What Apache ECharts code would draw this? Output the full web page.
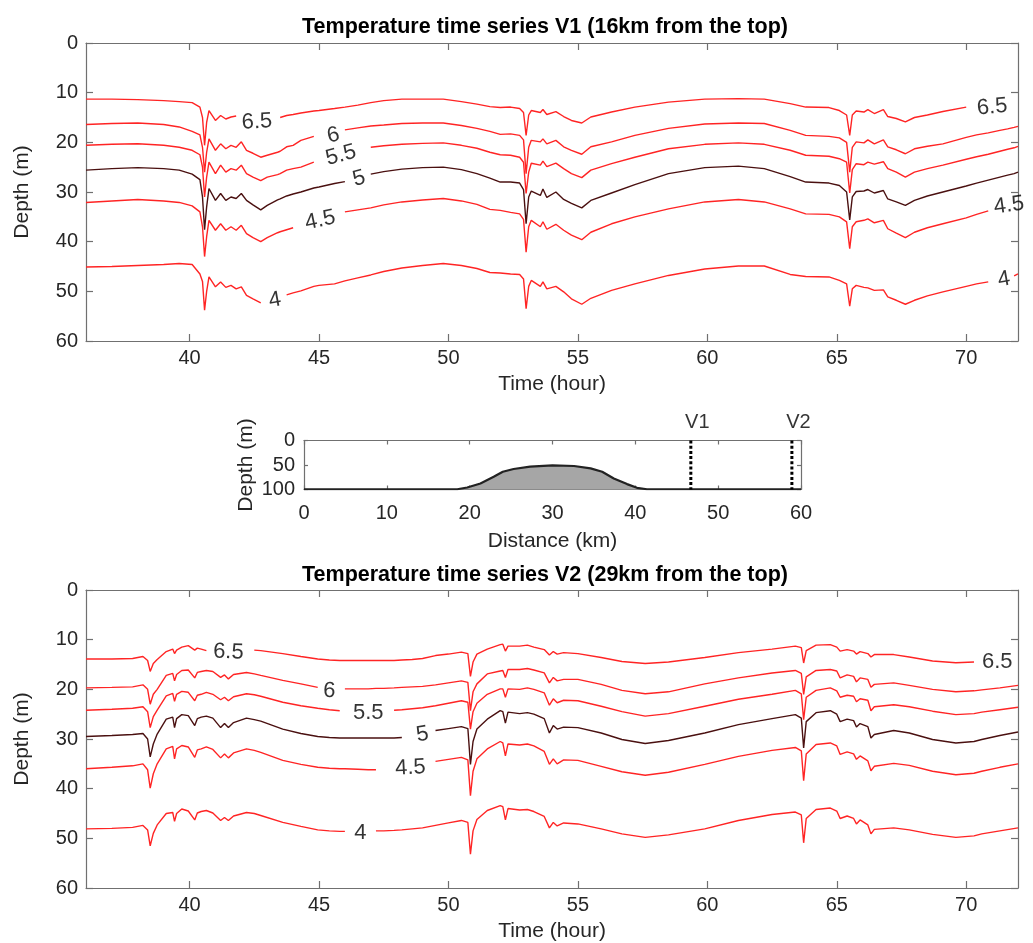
<!DOCTYPE html>
<html>
<head>
<meta charset="utf-8">
<script src="https://cdn.jsdelivr.net/npm/echarts@6/dist/echarts.min.js"></script>
<style>
html,body{margin:0;padding:0;background:#fff;}
#c{width:1033px;height:943px;}
</style>
</head>
<body>
<div id="c"></div>
<script>
// ---------- V1 panel (time grid + isotherm depths) ----------
const T1 = [36,37,38,39,39.6, 40.1,40.4,40.5,40.58,40.66, 40.75,41.0,41.2,41.4,41.6, 41.8,42.0,42.2,42.45,42.75,
  43.0,43.4,43.5,43.75,44.0, 44.3,44.8,45.0,45.6,46.0, 46.5,47.0,47.5,48.2,49.0, 49.8,50.5,51.1,51.6,52.0,
  52.4,52.75,52.9,53.0,53.1, 53.2,53.55,53.65,53.8,54.15, 54.45,54.75,55.15,55.5,56.3, 57.2,58.5,59.9,61.2,62.2,
  63.2,63.8,64.7,65.1,65.38, 65.5,65.6,65.75,66.05,66.2, 66.45,66.8,66.97,67.3,67.65, 68.0,68.5,69.1,70.0,70.4,
  70.85,71.3,71.6,71.85,72];
const v1_65 = [11.3,11.3,11.4,11.6,11.8, 12.0,12.9,15.0,20.6,16.0, 13.6,15.6,14.6,15.3,14.9, 14.7,null,null,null,null,
  null,null,15.0,14.6,14.4, 14.1,13.7,13.6,13.2,12.9, 12.5,12.0,11.6,11.3,11.3, 11.3,11.8,12.3,12.8,13.0,
  12.9,13.2,14.0,18.6,14.5, 13.6,14.0,13.4,14.4,13.8, 14.8,15.6,16.1,14.9,13.9, 12.9,11.9,11.3,11.2,11.3,
  12.2,12.9,13.0,13.6,14.5, 18.6,14.5,13.7,13.9,13.4, 14.2,13.4,14.8,15.2,15.9, 15.0,14.5,13.8,12.9,null,
  null,null,null,null,null];
const v1_60 = [16.4,16.2,16.1,16.4,16.9, 17.8,18.5,21.0,26.0,22.0, 19.3,21.6,20.3,21.3,20.6, 21.0,19.9,21.6,22.2,23.0,
  22.6,22.0,21.8,20.9,20.6, 19.6,18.8,null,null,17.5, 17.1,16.7,16.5,16.2,16.1, 16.1,16.6,17.2,17.8,18.4,
  18.3,18.6,19.5,26.3,21.0, 19.6,19.9,19.3,20.3,19.6, 20.9,21.6,22.4,20.9,19.9, 18.6,17.2,16.3,16.1,16.2,
  17.6,18.6,18.8,19.1,20.0, 26.0,21.0,19.9,20.1,19.5, 20.3,19.5,20.9,21.5,22.3, 21.3,20.8,20.3,19.0,18.5,
  18.1,17.6,17.3,17.0,16.8];
const v1_55 = [20.6,20.4,20.3,20.6,21.0, 21.6,22.5,25.0,31.0,27.0, 24.0,26.3,24.6,26.0,25.3, 25.6,24.6,26.3,27.0,27.7,
  27.0,26.5,26.3,25.6,25.3, 25.0,24.0,null,null,null, null,21.0,20.7,20.4,20.2, 20.1,20.6,21.2,22.0,22.5,
  22.6,23.0,24.0,30.3,26.0, 24.2,24.6,23.8,24.9,24.2, 25.3,26.3,27.1,25.6,24.3, 23.0,21.3,20.4,20.1,20.4,
  21.6,22.6,22.8,23.3,24.0, 30.2,25.5,24.3,24.5,24.0, 24.4,23.9,25.3,26.0,27.0, 26.0,25.3,24.6,23.4,22.9,
  22.4,21.8,21.4,21.1,20.8];
const v1_50 = [25.6,25.3,25.1,25.3,25.6, 26.4,27.5,31.0,37.6,33.0, 29.3,31.7,30.3,31.7,31.0, 31.3,30.3,31.7,32.6,33.6,
  32.7,31.6,31.4,30.8,30.4, 30.0,29.2,29.0,28.3,27.9, null,26.4,25.9,25.4,25.1, 25.0,25.5,26.3,27.2,28.0,
  28.0,28.2,29.5,36.4,31.0, 29.8,30.7,29.4,31.1,30.0, 31.5,32.3,33.2,31.7,30.2, 28.5,26.3,25.1,24.8,25.3,
  26.9,28.0,28.2,28.7,30.0, 35.6,31.0,29.9,29.8,29.5, 30.2,29.7,31.4,32.0,32.7, 31.7,30.8,30.0,28.8,28.2,
  27.6,27.0,26.6,26.3,26.0];
const v1_45 = [32.1,31.8,31.5,31.8,32.1, 32.8,34.0,37.0,43.0,39.0, 35.7,37.7,36.4,37.7,37.0, 37.7,36.7,38.4,39.2,40.0,
  39.2,38.2,38.0,37.6,37.2, null,null,null,null,34.0, 33.6,33.2,32.6,32.0,31.6, 31.3,31.8,32.5,33.5,33.7,
  34.1,34.4,35.5,42.1,37.0, 35.7,37.0,36.0,37.5,36.5, 37.7,38.7,39.6,38.1,36.4, 35.0,33.4,32.0,31.5,32.0,
  33.4,34.4,34.5,35.0,36.0, 41.4,37.0,36.0,35.7,35.4, 36.2,35.7,37.4,38.3,39.2, 38.1,37.2,36.4,35.2,34.5,
  33.8,null,null,null,null];
const v1_40 = [45.1,45.0,44.8,44.6,44.4, 44.6,46.5,48.0,53.8,50.0, 47.1,49.1,48.1,49.2,48.8, 49.5,49.1,50.8,51.5,52.3,
  null,null,null,50.7,50.3, 49.9,49.0,48.8,48.5,47.9, 47.3,46.7,46.0,45.3,44.8, 44.4,44.8,45.4,46.2,46.3,
  46.5,46.6,47.5,53.5,49.0, 47.8,49.0,48.1,49.5,49.0, 50.1,51.5,52.6,51.4,49.8, 48.5,46.8,45.5,44.9,44.9,
  46.6,47.0,47.1,47.8,48.5, 53.0,49.5,48.8,49.2,49.3, 49.8,49.7,51.1,51.8,52.6, 51.8,50.9,50.1,49.0,48.5,
  48.1,null,null,46.9,46.5];
const labelT1 = [42.6, 45.55, 45.85, 46.55, 45.05, 43.3, 71.0, 71.65, 71.46];
const labelD1 = [15.9, 18.6, 22.6, 27.3, 35.7, 51.8, 12.9, 32.7, 47.6];
const labelTxt1 = ['6.5','6','5.5','5','4.5','4','6.5','4.5','4'];
const labelRot1 = [3, 13, 15, 15, 12, 10, 5, 8, 10];

// ---------- V2 panel ----------
const T2 = [36,37,37.8,38.2,38.38, 38.48,38.6,38.75,39.1,39.35, 39.42,39.5,39.7,39.95,40.2, 40.3,40.45,40.65,40.9,41.2,
  41.35,41.5,41.7,42.2,42.5, 42.75,43.6,44.3,44.95,45.4, 45.8,46.0,46.5,46.9,47.2, 47.5,47.9,48.2,48.6,49.0,
  49.5,50.0,50.5,50.75,50.85, 50.95,51.1,51.5,52.0,52.1, 52.2,52.3,52.75,53.05,53.3, 53.7,53.9,54.05,54.2,54.45,
  55.0,55.9,56.7,57.6,58.5, 59.9,61.2,62.5,63.4,63.63, 63.72,63.82,64.2,64.75,65.0, 65.13,65.4,65.65,65.76,65.9,
  66.2,66.32,66.45,67.2,67.8, 68.7,69.6,70.3,70.6,71.3, 72];
const v2_65 = [13.9,13.9,13.8,13.4,14.2, 16.4,14.8,14.0,12.4,11.9, 12.8,12.1,11.5,11.2,12.1, 11.7,11.9,12.2,null,null,
  null,null,null,null,12.1, 12.2,12.8,13.4,13.9,14.1, 14.2,14.2,14.2,14.2,14.2, 14.2,14.2,14.1,14.0,13.8,
  13.2,12.9,12.5,12.8,17.4, 14.5,12.9,11.9,11.0,10.9, 12.3,11.3,11.3,11.1,11.5, 12.0,13.1,12.4,12.9,12.6,
  12.8,13.6,14.4,14.8,14.5, 13.6,12.6,11.9,11.3,11.6, 14.7,12.2,11.1,11.0,11.5, 12.3,12.0,12.3,12.9,12.4,
  12.8,13.5,13.0,13.0,13.5, 14.3,14.65,14.5,null,null, null];
const v2_60 = [19.7,19.6,19.5,19.1,20.0, 23.0,21.0,20.0,17.2,16.8, 18.3,17.0,16.2,16.1,17.7, 16.6,16.4,16.2,16.4,17.6,
  17.1,17.9,17.0,16.6,16.9, 17.2,18.2,18.9,19.6,null, null,19.9,19.9,19.9,19.8, 19.8,19.7,19.6,19.5,19.4,
  19.1,18.7,18.3,18.6,24.3, 20.5,18.9,16.9,16.3,16.2, 17.6,16.0,16.0,15.8,16.1, 16.7,18.7,17.6,18.3,18.0,
  18.0,19.0,20.2,20.9,20.5, 18.9,17.7,16.7,16.2,16.8, 21.0,17.5,16.2,16.0,16.3, 17.7,17.1,17.4,18.5,17.7,
  18.0,19.6,19.0,18.7,19.2, 20.0,20.5,20.3,20.1,19.7, 19.2];
const v2_55 = [24.2,24.0,23.8,23.5,24.5, 27.7,25.5,24.2,21.3,20.8, 22.4,21.0,20.4,20.6,22.3, 21.2,21.0,20.6,21.0,22.1,
  21.6,22.3,21.5,20.9,21.1, 21.4,22.6,23.3,23.8,24.1, 24.3,null,null,null,null, null,24.2,24.1,23.9,23.7,
  23.3,22.8,22.3,22.6,28.0, 24.5,22.8,21.0,19.9,19.9, 21.6,19.9,20.0,19.7,20.0, 20.7,23.2,21.9,22.7,22.2,
  22.3,23.4,24.5,25.4,24.9, 23.4,22.0,21.0,20.2,20.9, 26.1,21.6,20.2,19.7,20.3, 21.6,21.2,21.4,22.5,21.9,
  22.2,24.3,23.5,23.1,23.5, 24.4,25.1,24.9,24.6,24.1, 23.6];
const v2_50 = [29.5,29.3,29.1,28.9,30.0, 33.6,31.0,29.0,26.0,25.6, 27.7,25.9,25.1,25.3,27.3, 25.9,25.6,25.4,25.8,27.7,
  26.9,27.7,26.7,25.8,26.1, 26.4,28.0,28.9,29.5,29.7, 29.8,29.8,29.8,29.8,29.8, 29.8,29.8,29.7,null,null,
  28.3,27.9,27.5,27.9,35.1, 30.5,28.0,26.0,24.3,24.5, 26.8,24.6,24.9,24.7,25.0, 25.9,28.8,27.3,28.0,27.6,
  27.7,28.8,30.1,30.9,30.3, 28.8,27.1,25.9,25.1,25.8, 31.8,26.5,24.7,24.3,25.0, 26.5,26.0,26.3,27.6,26.9,
  27.5,29.8,29.1,28.3,28.8, 30.1,30.8,30.5,30.1,29.3, 28.6];
const v2_45 = [36.0,35.7,35.4,35.0,36.2, 39.9,37.0,35.0,32.0,31.5, 34.0,32.0,31.3,31.6,33.7, 32.2,32.0,31.6,32.1,33.8,
  33.0,33.8,32.8,32.0,32.3, 32.7,34.3,35.1,35.7,35.9, 36.0,36.0,36.1,36.2,36.2, null,null,null,null,null,
  34.5,34.1,33.7,34.2,41.4, 36.5,34.0,32.0,30.5,30.8, 33.4,31.0,31.2,31.0,31.4, 32.5,35.1,34.0,35.0,34.2,
  34.3,35.5,36.6,37.3,36.7, 35.1,33.5,32.3,31.7,32.4, 38.4,33.0,31.1,30.8,31.4, 33.1,32.6,33.0,34.1,33.4,
  34.4,36.4,35.5,34.9,35.3, 36.5,37.2,36.9,36.5,35.7, 35.0];
const v2_40 = [48.1,48.0,47.8,47.4,48.3, 51.5,49.0,47.3,45.0,44.8, 46.6,45.0,44.1,44.5,46.3, 44.9,44.6,44.4,44.9,46.4,
  45.8,46.4,45.5,44.8,45.0, 45.4,46.8,47.6,48.3,48.5, 48.6,48.6,null,null,48.5, 48.5,48.4,48.3,48.1,47.9,
  47.4,46.9,46.4,46.8,53.2, 48.5,46.2,44.4,43.4,43.6, 46.3,44.0,44.3,44.2,44.6, 45.6,47.9,46.8,47.5,46.9,
  47.1,48.1,49.1,49.8,49.3, 48.1,46.4,45.2,44.7,45.3, 50.9,46.0,44.2,43.9,44.5, 46.0,45.5,46.0,47.1,46.3,
  47.3,49.1,48.2,47.9,48.3, 49.2,49.8,49.5,49.1,48.5, 47.9];
const labelT2 = [41.5, 45.4, 46.9, 49.0, 48.53, 46.6, 71.2];
const labelD2 = [12.5, 20.3, 24.7, 29.1, 35.8, 49.0, 14.45];
const labelTxt2 = ['6.5','6','5.5','5','4.5','4','6.5'];
const labelRot2 = [-2, -2, 0, 10, 3, 0, 0];

// ---------- Cross-section panel ----------
const distKm = [0, 18.5, 19.7, 21.3, 22.9, 24.0, 25.3, 27.3, 30.0, 32.6, 34.6, 36.0, 37.4, 39.0, 40.2, 41.4, 60];
const bedDepth = [99.5, 99.5, 95.9, 87.7, 74.0, 63.7, 58.2, 53.4, 50.7, 52.0, 56.8, 63.7, 77.4, 89.0, 96.6, 99.5, 99.5];
const stationKm = [46.7, 58.9];
const stationName = ['V1', 'V2'];

// ---------- ticks ----------
const timeTicks = [40, 45, 50, 55, 60, 65, 70];

const FONT = "'Liberation Sans', Arial, Helvetica, sans-serif";
const AX = '#707070', TXT = '#262626';
const RED = '#ff2424', DARK = '#4a1010';

function pts(T, D){ return T.map((t,i)=>[t, D[i]===null ? '-' : D[i]]); }
function lineSeries(T, D, color, xi, yi){
  return {type:'line', xAxisIndex:xi, yAxisIndex:yi, data:pts(T,D), showSymbol:false, symbol:'none',
    lineStyle:{color:color, width:1.4}, itemStyle:{color:color}, connectNulls:false, silent:true, z:3};
}
function labelSeries(T, D, txt, rot, xi, yi){
  return {type:'scatter', xAxisIndex:xi, yAxisIndex:yi, symbolSize:0, silent:true, z:5, clip:false,
    label:{show:true, position:'inside', fontSize:22, fontFamily:FONT, color:'#000'},
    data:T.map((t,i)=>({value:[t, D[i]], label:{show:true, position:'inside', formatter:txt[i], rotate:rot[i],
      fontSize:22, fontFamily:FONT, color:'#000'}}))};
}
function xMain(gi, min, max, name, extra){
  return Object.assign({type:'value', gridIndex:gi, min:min, max:max, position:'bottom',
    name:name, nameLocation:'middle', nameGap:33,
    nameTextStyle:{fontSize:21, fontFamily:FONT, color:TXT},
    axisLine:{show:true, onZero:false, lineStyle:{color:AX, width:1.2}},
    axisTick:{show:true, inside:true, length:7, lineStyle:{color:AX, width:1.2}},
    axisLabel:{fontSize:20, fontFamily:FONT, color:TXT, margin:7},
    splitLine:{show:false}}, extra||{});
}
function xTop(gi, min, max, len, extra){
  return Object.assign({type:'value', gridIndex:gi, min:min, max:max, position:'top',
    axisLine:{show:true, onZero:false, lineStyle:{color:AX, width:1.2}},
    axisTick:{show:true, inside:true, length:len, lineStyle:{color:AX, width:1.2}},
    axisLabel:{show:false}, splitLine:{show:false}}, extra||{});
}
function yMain(gi, max, interval, gap, margin){
  return {type:'value', gridIndex:gi, min:0, max:max, interval:interval, inverse:true, position:'left',
    name:'Depth (m)', nameLocation:'middle', nameGap:gap,
    nameTextStyle:{fontSize:21, fontFamily:FONT, color:TXT},
    axisLine:{show:true, onZero:false, lineStyle:{color:AX, width:1.2}},
    axisTick:{show:true, inside:true, length: gi===1?4:7, lineStyle:{color:AX, width:1.2}},
    axisLabel:{fontSize:20, fontFamily:FONT, color:TXT, margin:margin},
    splitLine:{show:false}};
}
function yRight(gi, max, interval, len){
  return {type:'value', gridIndex:gi, min:0, max:max, interval:interval, inverse:true, position:'right',
    axisLine:{show:true, onZero:false, lineStyle:{color:AX, width:1.2}},
    axisTick:{show:true, inside:true, length:len, lineStyle:{color:AX, width:1.2}},
    axisLabel:{show:false}, splitLine:{show:false}};
}

const series = [];
// V1
series.push(lineSeries(T1, v1_50, DARK, 0, 0));
[v1_65, v1_60, v1_55, v1_45, v1_40].forEach(d=>series.push(lineSeries(T1, d, RED, 0, 0)));
series.push(labelSeries(labelT1, labelD1, labelTxt1, labelRot1, 0, 0));
// cross-section
series.push({type:'line', xAxisIndex:2, yAxisIndex:2, data:distKm.map((x,i)=>[x, bedDepth[i]]),
  showSymbol:false, symbol:'none', silent:true, z:3,
  lineStyle:{color:'#222', width:2.2}, areaStyle:{color:'#a6a6a6', opacity:1, origin:'end'}});
stationKm.forEach((x,i)=>{
  series.push({type:'line', xAxisIndex:2, yAxisIndex:2, data:[[x,0],[x,100]], showSymbol:false, symbol:'none',
    silent:true, z:4, lineStyle:{color:'#000', width:3, type:[3,2.2]}});
});
series.push({type:'scatter', xAxisIndex:2, yAxisIndex:2, symbolSize:0, silent:true, clip:false, z:5,
  data:stationKm.map((x,i)=>({value:[x,0], label:{show:true, position:'top', distance:8, offset:[6.5,0],
    formatter:stationName[i], fontSize:20, fontFamily:FONT, color:'#000'}}))});
// V2
series.push(lineSeries(T2, v2_50, DARK, 4, 4));
[v2_65, v2_60, v2_55, v2_45, v2_40].forEach(d=>series.push(lineSeries(T2, d, RED, 4, 4)));
series.push(labelSeries(labelT2, labelD2, labelTxt2, labelRot2, 4, 4));

const chart = echarts.init(document.getElementById('c'), null, {renderer:'canvas'});
chart.setOption({
  animation:false,
  backgroundColor:'#fff',
  grid:[
    {left:86, top:43, width:932, height:298},
    {left:304, top:440.5, width:497, height:49},
    {left:86, top:590, width:932, height:298}
  ],
  xAxis:[
    xMain(0, 36, 72, 'Time (hour)', {axisLabel:{fontSize:20, fontFamily:FONT, color:TXT, margin:7, customValues:timeTicks},
      axisTick:{show:true, inside:true, length:7, customValues:timeTicks, lineStyle:{color:AX, width:1.2}}}),
    xTop(0, 36, 72, 7, {axisTick:{show:true, inside:true, length:7, customValues:timeTicks, lineStyle:{color:AX, width:1.2}}}),
    xMain(1, 0, 60, 'Distance (km)', {interval:10, nameGap:41,
      axisLabel:{fontSize:20, fontFamily:FONT, color:TXT, margin:14},
      axisTick:{show:true, inside:true, length:4, lineStyle:{color:AX, width:1.2}}}),
    xTop(1, 0, 60, 4, {interval:10}),
    xMain(2, 36, 72, 'Time (hour)', {axisLabel:{fontSize:20, fontFamily:FONT, color:TXT, margin:7, customValues:timeTicks},
      axisTick:{show:true, inside:true, length:7, customValues:timeTicks, lineStyle:{color:AX, width:1.2}}}),
    xTop(2, 36, 72, 7, {axisTick:{show:true, inside:true, length:7, customValues:timeTicks, lineStyle:{color:AX, width:1.2}}})
  ],
  yAxis:[
    yMain(0, 60, 10, 53, 8),
    yRight(0, 60, 10, 7),
    yMain(1, 100, 50, 47, 9),
    yRight(1, 100, 50, 4),
    yMain(2, 60, 10, 53, 8),
    yRight(2, 60, 10, 7)
  ],
  graphic:[
    {type:'text', x:545, y:27, silent:true, style:{text:'Temperature time series V1 (16km from the top)',
      font:'bold 21.5px '+FONT, fill:'#000', align:'center', verticalAlign:'middle', textAlign:'center', textVerticalAlign:'middle'}},
    {type:'text', x:545, y:575, silent:true, style:{text:'Temperature time series V2 (29km from the top)',
      font:'bold 21.5px '+FONT, fill:'#000', align:'center', verticalAlign:'middle', textAlign:'center', textVerticalAlign:'middle'}}
  ],
  series:series
});
</script>
</body>
</html>
